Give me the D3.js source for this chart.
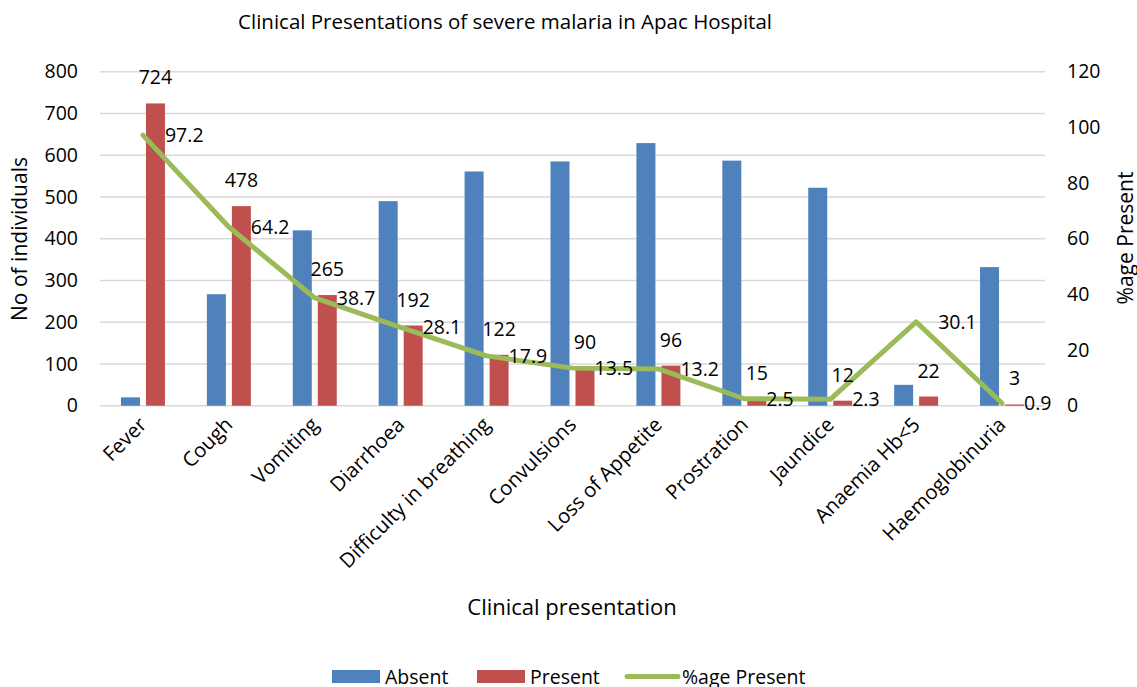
<!DOCTYPE html>
<html>
<head>
<meta charset="utf-8">
<script src="https://cdn.jsdelivr.net/npm/d3@7"></script>
<style>
  body { margin: 0; background: #fff; }
  text { font-family: "Open Sans", "Noto Sans", sans-serif; fill: #000; }
</style>
</head>
<body>
<div class="chart"></div>
<script>
// Clinical presentations of severe malaria - bars (counts) + line (% present)

var categories = ["Fever", "Cough", "Vomiting", "Diarrhoea", "Difficulty in breathing",
                  "Convulsions", "Loss of Appetite", "Prostration", "Jaundice",
                  "Anaemia Hb<5", "Haemoglobinuria"];
var absent  = [20, 267, 420, 490, 561, 585, 629, 587, 522, 50, 332];
var present = [724, 478, 265, 192, 122, 90, 96, 15, 12, 22, 3];
var pctPresent = [97.2, 64.2, 38.7, 28.1, 17.9, 13.5, 13.2, 2.5, 2.3, 30.1, 0.9];
var leftTicks = [0, 100, 200, 300, 400, 500, 600, 700, 800];
var rightTicks = [0, 20, 40, 60, 80, 100, 120];

var colors = { Absent: "#4F81BD", Present: "#C0504D", line: "#9BBB59" };

var svg = d3.select(".chart").append("svg")
    .attr("width", 1137)
    .attr("height", 687);

var x = d3.scaleBand().domain(categories).range([100, 1045]);
var xs = d3.scaleBand().domain(["Absent", "Present"]).range([-22, 22]).paddingInner(0.24);
var y = d3.scaleLinear().domain([0, 800]).range([405.7, 71.7]);
var y2 = d3.scaleLinear().domain([0, 120]).range([405.7, 71.7]);

// gridlines
svg.append("g")
    .selectAll("line")
    .data(leftTicks)
    .enter().append("line")
      .attr("x1", 100).attr("x2", 1045)
      .attr("y1", function(d) { return y(d); })
      .attr("y2", function(d) { return y(d); })
      .style("stroke", "#D9D9D9")
      .style("stroke-width", 1.5);

// left axis labels
svg.append("g")
    .attr("transform", "translate(78,0)")
    .call(d3.axisLeft(y).tickValues(leftTicks).tickSize(0).tickPadding(0))
    .call(function(g) { g.select(".domain").remove(); })
    .selectAll("text")
      .style("font-size", "19.5px")
      .style("font-family", "'Open Sans'");

// right axis labels
svg.append("g")
    .attr("transform", "translate(1067,0)")
    .call(d3.axisRight(y2).tickValues(rightTicks).tickSize(0).tickPadding(0))
    .call(function(g) { g.select(".domain").remove(); })
    .selectAll("text")
      .style("font-size", "19.5px")
      .style("font-family", "'Open Sans'");

// bars
var rows = categories.map(function(c, i) {
  return { cat: c, Absent: absent[i], Present: present[i], pct: pctPresent[i] };
});

var groups = svg.append("g").selectAll("g")
    .data(rows)
    .enter().append("g")
      .attr("transform", function(d) { return "translate(" + (x(d.cat) + x.bandwidth() / 2) + ",0)"; });

groups.selectAll("rect")
    .data(function(d) { return ["Absent", "Present"].map(function(k) { return { key: k, value: d[k] }; }); })
    .enter().append("rect")
      .attr("x", function(d) { return xs(d.key); })
      .attr("width", xs.bandwidth())
      .attr("y", function(d) { return y(d.value); })
      .attr("height", function(d) { return y(0) - y(d.value); })
      .style("fill", function(d) { return colors[d.key]; });

// line
var line = d3.line()
    .x(function(d) { return x(d.cat) + x.bandwidth() / 2; })
    .y(function(d) { return y2(d.pct); });

svg.append("path")
    .datum(rows)
    .attr("d", line)
    .style("fill", "none")
    .style("stroke", colors.line)
    .style("stroke-width", 5)
    .style("stroke-linejoin", "round")
    .style("stroke-linecap", "round");

// value labels for present bars
svg.append("g").selectAll("text")
    .data(rows)
    .enter().append("text")
    .text(function(d) { return d.Present; })
      .attr("x", function(d) { return x(d.cat) + x.bandwidth() / 2 + xs("Present") + xs.bandwidth() / 2; })
      .attr("y", function(d) { return y(d.Present) - 19; })
      .attr("text-anchor", "middle")
      .style("font-size", "19.5px");

// percent labels to the right of the line points
svg.append("g").selectAll("text")
    .data(rows)
    .enter().append("text")
    .text(function(d) { return d.pct; })
      .attr("x", function(d) { return x(d.cat) + x.bandwidth() / 2 + 22; })
      .attr("y", function(d) { return y2(d.pct) + 7; })
      .style("font-size", "19.5px");

// category labels
svg.append("g").selectAll("text")
    .data(categories)
    .enter().append("text")
    .text(function(d) { return d; })
      .attr("text-anchor", "end")
      .attr("transform", function(d) { return "translate(" + (x(d) + x.bandwidth() / 2 + 5) + ",426) rotate(-45)"; })
      .style("font-size", "20.3px");

// titles
svg.append("text")
    .text("Clinical Presentations of severe malaria in Apac Hospital")
      .attr("x", 505).attr("y", 29)
      .attr("text-anchor", "middle")
      .style("font-size", "20.5px");

svg.append("text")
    .text("No of individuals")
      .attr("transform", "translate(27,239) rotate(-90)")
      .attr("text-anchor", "middle")
      .style("font-size", "21px");

svg.append("text")
    .text("%age Present")
      .attr("transform", "translate(1133,238) rotate(-90)")
      .attr("text-anchor", "middle")
      .style("font-size", "21px");

svg.append("text")
    .text("Clinical presentation")
      .attr("x", 572).attr("y", 615)
      .attr("text-anchor", "middle")
      .style("font-size", "22px");

// legend
var legend = [
  { name: "Absent", x: 332, type: "rect", color: colors.Absent },
  { name: "Present", x: 477, type: "rect", color: colors.Present },
  { name: "%age Present", x: 627, type: "line", color: colors.line }
];
var lg = svg.append("g").selectAll("g")
    .data(legend)
    .enter().append("g");
lg.filter(function(d) { return d.type === "rect"; }).append("rect")
    .attr("x", function(d) { return d.x; })
    .attr("y", 670).attr("width", 48).attr("height", 13)
    .style("fill", function(d) { return d.color; });
lg.filter(function(d) { return d.type === "line"; }).append("line")
    .attr("x1", function(d) { return d.x; })
    .attr("x2", function(d) { return d.x + 51; })
    .attr("y1", 676.5).attr("y2", 676.5)
    .style("stroke", function(d) { return d.color; })
    .style("stroke-width", 5)
    .style("stroke-linecap", "round");
lg.append("text")
    .text(function(d) { return d.name; })
      .attr("x", function(d) { return d.x + (d.type === "rect" ? 53 : 55); })
      .attr("y", 684)
      .style("font-size", "19.5px");
</script>
</body>
</html>
